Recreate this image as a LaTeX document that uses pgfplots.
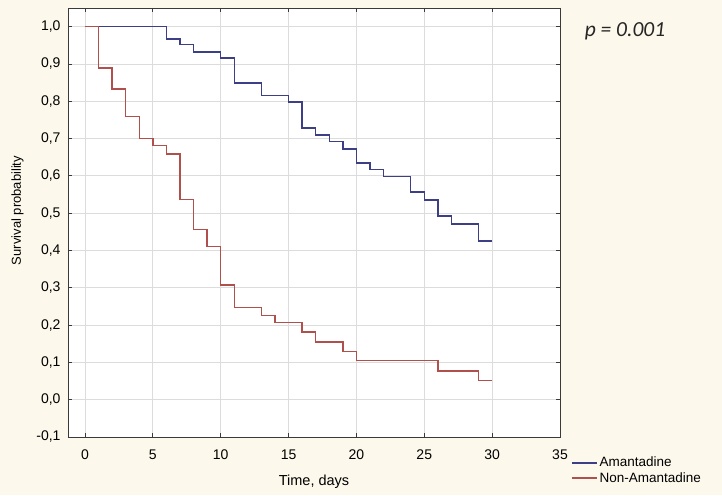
\documentclass[border=0pt]{standalone}
\usepackage{pgfplots}
\pgfplotsset{compat=1.18}
\usepackage{fontspec}
\setmainfont{Liberation Sans}
\newfontfamily\pfont{Carlito}
\definecolor{bgcream}{HTML}{FDF8EC}
\definecolor{amablue}{HTML}{3C3F86}
\definecolor{nonred}{HTML}{B0504C}
\definecolor{gridgray}{HTML}{DCDCDC}
\definecolor{axgray}{HTML}{3A3A3A}
\begin{document}
\begin{tikzpicture}
\fill[bgcream] (-68pt,-58pt) rectangle (654pt,437pt);
\begin{axis}[
  at={(0pt,0pt)}, anchor=south west,
  scale only axis, width=492pt, height=429pt,
  xmin=-1.25, xmax=35, ymin=-0.1, ymax=1.05,
  xtick={0,5,10,15,20,25,30,35},
  ytick={-0.1,0,0.1,0.2,0.3,0.4,0.5,0.6,0.7,0.8,0.9,1.0},
  grid=major, grid style={gridgray, line width=0.8pt},
  axis background/.style={fill=white},
  axis line style={axgray, line width=0.8pt},
  tick align=inside, tick pos=both, major tick length=4pt,
  tick style={axgray, line width=0.8pt},
  ticklabel style={font=\fontsize{14}{16}\selectfont},
  /pgf/number format/assume math mode=true,
  yticklabel style={/pgf/number format/.cd, fixed, fixed zerofill, precision=1, use comma, /tikz/.cd, xshift=-4pt},
  xticklabel style={yshift=-9pt},
  xlabel={Time, days},
  ylabel={Survival probability},
  xlabel style={font=\fontsize{14.5}{16}\selectfont, yshift=-9pt},
  ylabel style={font=\fontsize{13}{15}\selectfont, yshift=6pt, xshift=12pt},
  legend style={at={(rel axis cs:1,0)}, anchor=north west, xshift=11pt, yshift=-18pt,
    draw=none, fill=none, inner sep=0pt, row sep=0pt,
    font=\fontsize{13.5}{15.5}\selectfont},
  legend cell align=left,
  legend image code/.code={\draw[#1] (0pt,0pt) -- (25pt,0pt);},
]
\addplot[const plot, amablue, line width=1.5pt] coordinates {
(0,1.0) (6,0.967) (7,0.952) (8,0.932) (10,0.916) (11,0.849) (13,0.815)
(15,0.798) (16,0.728) (17,0.710) (18,0.692) (19,0.672) (20,0.635)
(21,0.617) (22,0.598) (24,0.557) (25,0.535) (26,0.493) (27,0.471)
(29,0.426) (30,0.426)};
\addlegendentry{Amantadine}
\addplot[const plot, nonred, line width=1.5pt] coordinates {
(0,1.0) (1,0.889) (2,0.833) (3,0.759) (4,0.700) (5,0.681) (6,0.659)
(7,0.536) (8,0.456) (9,0.411) (10,0.308) (11,0.247) (13,0.226)
(14,0.207) (16,0.181) (17,0.154) (19,0.129) (20,0.105) (26,0.077)
(29,0.052) (30,0.052)};
\addlegendentry{Non-Amantadine}
\end{axis}
\node[font=\pfont\itshape\fontsize{21.5}{24}\selectfont, text=black!85] at (557pt,406pt) {p = 0.001};
\end{tikzpicture}
\end{document}
